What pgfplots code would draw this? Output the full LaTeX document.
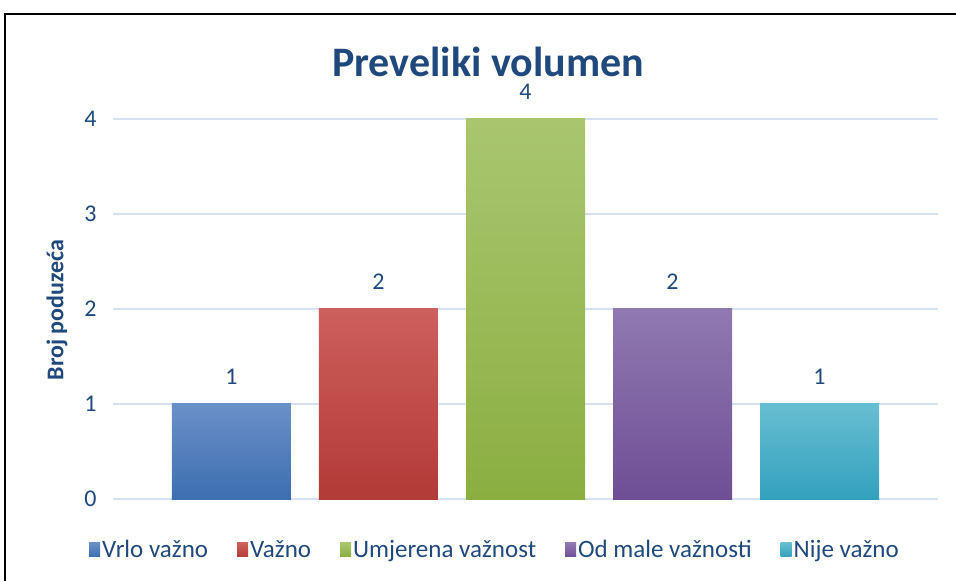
\documentclass[border=0pt]{standalone}
\usepackage{fontspec}
\setmainfont{Carlito}
\usepackage{pgfplots}
\pgfplotsset{compat=1.18}
\definecolor{txt}{HTML}{1F497D}
\definecolor{gridc}{HTML}{D6E2F2}
\definecolor{bT}{HTML}{6A90C8}\definecolor{bB}{HTML}{3D6EB0}
\definecolor{rT}{HTML}{CD5F5C}\definecolor{rB}{HTML}{B23A37}
\definecolor{gT}{HTML}{A9C66F}\definecolor{gB}{HTML}{8BAE41}
\definecolor{pT}{HTML}{9079B1}\definecolor{pB}{HTML}{6E4E95}
\definecolor{aT}{HTML}{66BED2}\definecolor{aB}{HTML}{33A1BD}
\begin{document}
\begin{tikzpicture}[x=1pt,y=1pt]
\begin{axis}[
  at={(113pt,82pt)}, anchor=south west,
  scale only axis, width=825pt, height=380pt,
  xmin=-0.806, xmax=4.806, ymin=0, ymax=4,
  axis line style={draw=none},
  ytick={0,1,2,3,4}, xtick=\empty,
  ymajorgrids, grid style={gridc, line width=1.6pt},
  major tick length=0pt,
  /pgf/number format/assume math mode=true,
  yticklabel style={font=\fontsize{24}{24}\selectfont, text=txt, xshift=-13pt},
  ybar, bar width=119pt,
  nodes near coords,
  nodes near coords style={font=\fontsize{24}{24}\selectfont, text=txt, anchor=base, inner sep=0pt, yshift=19pt},
  clip=false,
  legend columns=-1,
  legend image code/.code={\path[#1, draw=none] (0pt,-7pt) rectangle (11pt,7pt);},
  legend style={at={(0.463,-0.134)}, anchor=center, draw=none, fill=none,
    font=\fontsize{25}{25}\selectfont, text=txt,
    /tikz/every even column/.append style={column sep=27pt}},
]
\addplot[bar shift=0pt, draw=none, top color=bT, bottom color=bB] coordinates {(0,1)};
\addplot[bar shift=0pt, draw=none, top color=rT, bottom color=rB] coordinates {(1,2)};
\addplot[bar shift=0pt, draw=none, top color=gT, bottom color=gB] coordinates {(2,4)};
\addplot[bar shift=0pt, draw=none, top color=pT, bottom color=pB] coordinates {(3,2)};
\addplot[bar shift=0pt, draw=none, top color=aT, bottom color=aB] coordinates {(4,1)};
\legend{Vrlo važno, Važno, Umjerena važnost, Od male važnosti, Nije važno}
\end{axis}
\draw[line width=2pt] (5,0) -- (5,567) -- (957,567);
\node[anchor=base, inner sep=0pt, font=\bfseries\fontsize{42}{42}\selectfont, text=txt] at (488,504) {Preveliki volumen};
\node[rotate=90, font=\bfseries\fontsize{24}{24}\selectfont, text=txt] at (57,271) {Broj poduzeća};
\pgfresetboundingbox
\useasboundingbox (0,0) rectangle (956,581);
\end{tikzpicture}
\end{document}
